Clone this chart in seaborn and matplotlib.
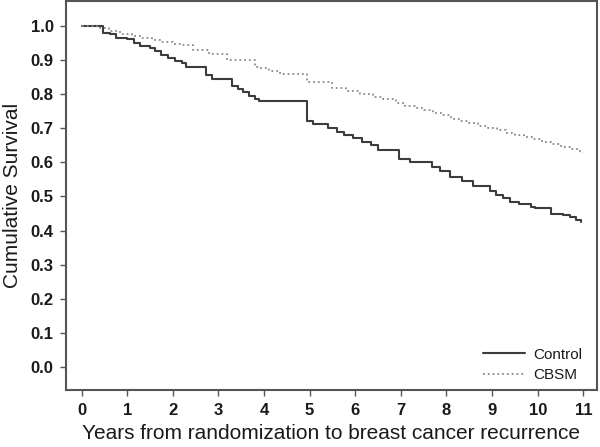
import numpy as np
import pandas as pd
import matplotlib
matplotlib.use("Agg")
import matplotlib.pyplot as plt
import seaborn as sns

# Kaplan-Meier step curves (time in years, survival)
control_t = [0, 0.47, 0.62, 0.75, 1.0, 1.15, 1.28, 1.5, 1.62, 1.75, 1.9, 2.05, 2.2, 2.3,
             2.72, 2.85, 3.3, 3.42, 3.55, 3.68, 3.8, 3.9, 4.95, 5.08, 5.4, 5.6, 5.75, 5.95,
             6.15, 6.35, 6.5, 6.95, 7.2, 7.68, 7.85, 8.08, 8.35, 8.58, 8.95, 9.08, 9.25,
             9.4, 9.6, 9.85, 9.95, 10.3, 10.55, 10.7, 10.85, 10.95]
control_s = [1.0, 0.98, 0.975, 0.965, 0.96, 0.95, 0.94, 0.935, 0.925, 0.915, 0.905, 0.898,
             0.89, 0.88, 0.855, 0.845, 0.825, 0.815, 0.805, 0.795, 0.787, 0.78, 0.72, 0.712,
             0.70, 0.69, 0.68, 0.67, 0.66, 0.65, 0.635, 0.61, 0.60, 0.585, 0.575, 0.558,
             0.545, 0.53, 0.515, 0.505, 0.495, 0.485, 0.478, 0.47, 0.465, 0.45, 0.445, 0.44,
             0.432, 0.425]

cbsm_t = [0, 0.4, 0.6, 0.85, 1.1, 1.3, 1.55, 1.75, 2.0, 2.2, 2.45, 2.8, 3.2, 3.8, 3.9,
          4.1, 4.35, 4.95, 5.5, 5.8, 6.1, 6.4, 6.6, 6.9, 7.1, 7.3, 7.5, 7.7, 7.9, 8.1, 8.3,
          8.5, 8.7, 8.9, 9.1, 9.3, 9.5, 9.7, 9.9, 10.1, 10.3, 10.5, 10.7, 10.9, 10.98]
cbsm_s = [1.0, 0.995, 0.985, 0.976, 0.97, 0.965, 0.958, 0.952, 0.948, 0.945, 0.93, 0.917,
          0.9, 0.88, 0.875, 0.868, 0.859, 0.835, 0.818, 0.81, 0.80, 0.79, 0.785, 0.775,
          0.765, 0.76, 0.752, 0.745, 0.738, 0.728, 0.722, 0.714, 0.707, 0.70, 0.694, 0.686,
          0.68, 0.674, 0.668, 0.66, 0.654, 0.646, 0.64, 0.634, 0.628]

x_ticks = list(range(0, 12))
y_ticks = [0.0, 0.1, 0.2, 0.3, 0.4, 0.5, 0.6, 0.7, 0.8, 0.9, 1.0]

sns.set_style('ticks')
plt.rcParams['font.family'] = ['Liberation Sans', 'DejaVu Sans']

fig = plt.figure(figsize=(6, 4.47), dpi=100)
ax = fig.add_axes([0.11, 0.1275, 0.885, 0.8705])

sns.lineplot(x=control_t, y=control_s, ax=ax, drawstyle='steps-post', estimator=None,
             sort=False, color='#3c3c3c', linewidth=1.5, label='Control')
sns.lineplot(x=cbsm_t, y=cbsm_s, ax=ax, drawstyle='steps-post', estimator=None,
             sort=False, color='#8a8a8a', linewidth=1.3, linestyle=':', label='CBSM')

ax.set_xlim(-0.34, 11.3)
ax.set_ylim(-0.067, 1.073)
ax.set_xticks(x_ticks)
ax.set_yticks(y_ticks)
ax.set_yticklabels([f"{v:.1f}" for v in y_ticks])
ax.tick_params(axis='both', direction='out', length=4, width=1, color='#555555',
               labelsize=12, pad=5, labelcolor='#1a1a1a')
for lab in ax.get_xticklabels() + ax.get_yticklabels():
    lab.set_fontweight('bold')

for sp in ax.spines.values():
    sp.set_visible(True)
    sp.set_color('#555555')
    sp.set_linewidth(1.5)

ax.set_xlabel('Years from randomization to breast cancer recurrence', fontsize=15,
              color='#1a1a1a', labelpad=5)
ax.set_ylabel('Cumulative Survival', fontsize=15, color='#1a1a1a', labelpad=6)

leg = ax.legend(loc='lower right', bbox_to_anchor=(0.983, 0.005), borderaxespad=0,
                frameon=False, fontsize=11, handlelength=2.75, handletextpad=0.5,
                labelspacing=0.4)
for t in leg.get_texts():
    t.set_color('#1a1a1a')

plt.savefig('out.png', dpi=100)
